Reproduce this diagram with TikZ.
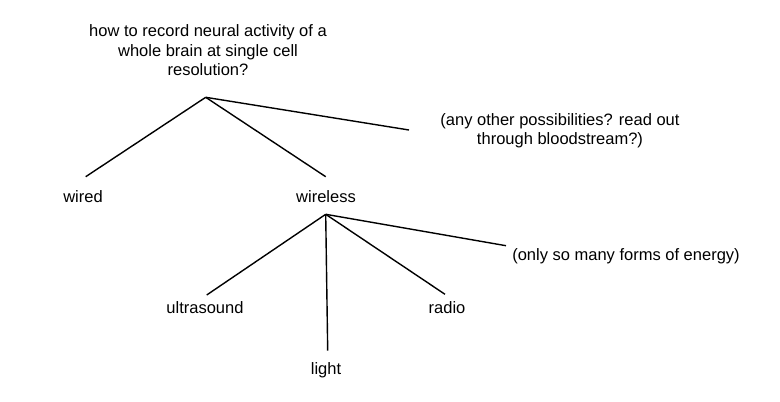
\documentclass[tikz,border=0pt]{standalone}
\usepackage{fontspec}
\setmainfont{Liberation Sans}
\begin{document}
\begin{tikzpicture}[x=1pt,y=-1pt,
  lbl/.style={font=\fontsize{16.5}{19.5}\selectfont, inner sep=0pt, anchor=base, align=center},
  edge/.style={line width=1.4pt, black}]
\useasboundingbox[fill=white] (0,0) rectangle (780,402);
% labels
\node[lbl] (root) at (208,75.7) {how to record neural activity of a\\whole brain at single cell\\resolution?};
\node[lbl] (other) at (560,144.5) {(any other possibilities? read out\\through bloodstream?)};
\node[lbl] (wired) at (83,202) {wired};
\node[lbl] (wireless) at (326,202) {wireless};
\node[lbl] (energy) at (626,260) {(only so many forms of energy)};
\node[lbl] (ultra) at (205,313.3) {ultrasound};
\node[lbl] (radio) at (447,313.3) {radio};
\node[lbl] (light) at (326,374.3) {light};
% connector ends
\coordinate (rootapex) at (205.7,97.3);
\coordinate (wiredend) at (85.7,176.7);
\coordinate (wirelessend) at (325.7,176.7);
\coordinate (otherend) at (409,130);
\coordinate (wlapex) at (325.7,214.3);
\coordinate (ultraend) at (206.7,295);
\coordinate (lightend) at (327.7,350.7);
\coordinate (radioend) at (445,294.3);
\coordinate (energyend) at (506,245.7);
% connectors
\draw[edge] (rootapex) -- (wiredend);
\draw[edge] (rootapex) -- (wirelessend);
\draw[edge] (rootapex) -- (otherend);
\draw[edge] (wlapex) -- (ultraend);
\draw[edge] (wlapex) -- (lightend);
\draw[edge] (wlapex) -- (radioend);
\draw[edge] (wlapex) -- (energyend);
\end{tikzpicture}
\end{document}
